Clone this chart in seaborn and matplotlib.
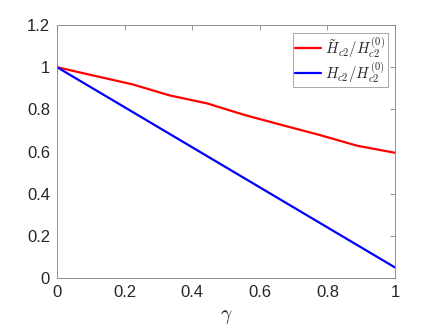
import numpy as np
import pandas as pd
import matplotlib
matplotlib.use("Agg")
import matplotlib.pyplot as plt
import seaborn as sns

# values
gamma = [0, 1/9, 2/9, 3/9, 4/9, 5/9, 6/9, 7/9, 8/9, 1]
h_tilde = [1.0, 0.959, 0.919, 0.866, 0.828, 0.773, 0.725, 0.678, 0.627, 0.594]
h_plain = [1.0, 0.8944, 0.7889, 0.6833, 0.5778, 0.4722, 0.3667, 0.2611, 0.1556, 0.05]
labels = [r"$\tilde{H}_{c2}/H_{c2}^{(0)}$", r"$H_{c2}/H_{c2}^{(0)}$"]
xticks = [0, 0.2, 0.4, 0.6, 0.8, 1]
yticks = [0, 0.2, 0.4, 0.6, 0.8, 1, 1.2]

df = pd.DataFrame({
    "gamma": gamma * 2,
    "value": h_tilde + h_plain,
    "series": [labels[0]] * len(gamma) + [labels[1]] * len(gamma),
})

sns.set_style("white")
plt.rcParams["font.family"] = ["Liberation Sans", "DejaVu Sans"]
plt.rcParams["mathtext.fontset"] = "cm"

fig = plt.figure(figsize=(4.36, 3.27), dpi=100)
ax = fig.add_axes([57/436, 1 - 278/327, 338/436, 253/327])

sns.lineplot(data=df, x="gamma", y="value", hue="series",
             palette=["#ff0000", "#0000ff"], linewidth=1.6, ax=ax)

ax.set_xlim(0, 1)
ax.set_ylim(0, 1.2)
ax.set_xticks(xticks)
ax.set_xticklabels(["0", "0.2", "0.4", "0.6", "0.8", "1"])
ax.set_yticks(yticks)
ax.set_yticklabels(["0", "0.2", "0.4", "0.6", "0.8", "1", "1.2"])
ax.tick_params(direction="in", top=True, right=True, length=3.5,
               width=0.6, colors="#808080", labelcolor="#262626",
               labelsize=12, pad=5)
for s in ax.spines.values():
    s.set_color("#808080")
    s.set_linewidth(0.6)
ax.set_ylabel("")
ax.set_xlabel(r"$\gamma$", fontsize=14, color="#262626", labelpad=6)

leg = ax.legend(loc="upper right", fontsize=10.8, frameon=True, fancybox=False,
                edgecolor="#808080", handlelength=1.7, borderpad=0.15,
                labelspacing=0.0, handletextpad=0.3, borderaxespad=0.5)
leg.get_frame().set_linewidth(0.6)

fig.savefig("out.png", dpi=100)
